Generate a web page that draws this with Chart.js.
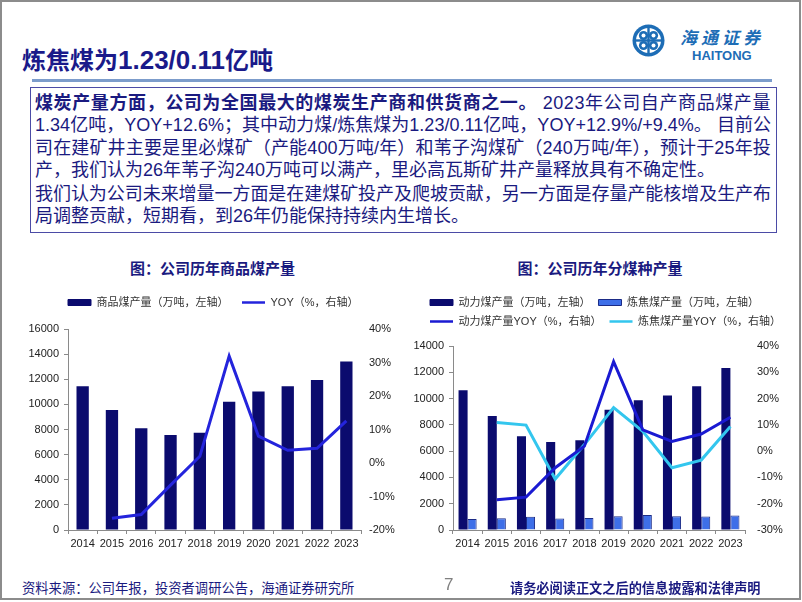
<!DOCTYPE html>
<html>
<head>
<meta charset="utf-8">
<script src="https://cdn.jsdelivr.net/npm/chart.js@4.4.1/dist/chart.umd.min.js"></script>
<style>
html,body{margin:0;padding:0;background:#fff;}
#page{position:relative;width:802px;height:602px;overflow:hidden;font-family:"Liberation Sans","Noto Sans CJK SC",sans-serif;color:#1a1a80;}
.abs{position:absolute;}
#frame{left:0;top:0;width:801px;height:600px;box-sizing:border-box;border:2px solid #8c8c8c;}
#title{left:22px;top:43px;font-size:24px;font-weight:bold;white-space:nowrap;line-height:32px;font-family:"Noto Sans CJK SC",sans-serif;color:#1a1a8a;}
#title .num{font-family:"Liberation Sans Narrow","Liberation Sans",sans-serif;font-size:26px;}
#rule{left:32px;top:79px;width:740px;height:3px;background:#7c9ccb;}
#box{left:30px;top:87px;width:747px;height:146px;box-sizing:border-box;border:1.5px solid #4b4ba6;}
.ln{position:absolute;left:35px;font-size:18px;line-height:22px;white-space:nowrap;}
.ct{position:absolute;top:258px;text-align:center;font-size:15px;font-weight:bold;line-height:20px;font-family:"Noto Sans CJK SC",sans-serif;color:#1a1a80;}
#foot1{left:22px;top:579px;font-size:13.3px;line-height:18px;font-family:"Noto Sans CJK SC",sans-serif;white-space:nowrap;}
#pnum{left:444px;top:575px;font-size:17px;line-height:20px;color:#808080;}
#foot2{left:510px;top:579px;font-size:13.2px;line-height:18px;font-weight:bold;font-family:"Noto Sans CJK SC",sans-serif;white-space:nowrap;}
#logoT{left:680px;top:26px;font-size:17px;line-height:22px;font-weight:bold;font-style:italic;letter-spacing:4px;color:#1d6db6;font-family:"Noto Sans CJK SC",sans-serif;white-space:nowrap;}
#logoE{left:692px;top:48px;font-size:13px;line-height:16px;font-weight:bold;color:#1d6db6;}
canvas{position:absolute;}
</style>
</head>
<body>
<div id="page">
  <div id="frame" class="abs"></div>
  <div id="title" class="abs">炼焦煤为<span class="num">1.23/0.11</span>亿吨</div>
  <svg class="abs" style="left:632px;top:24px" width="33" height="33" viewBox="-16.5 -16.5 33 33">
    <circle r="16" fill="#1d6db6"/>
    <circle r="12.5" fill="#fff"/>
    <circle cx="-5" cy="-5" r="4.6" fill="#1d6db6"/>
    <circle cx="5" cy="-5" r="4.6" fill="#1d6db6"/>
    <circle cx="-5" cy="5" r="4.6" fill="#1d6db6"/>
    <circle cx="5" cy="5" r="4.6" fill="#1d6db6"/>
    <circle cx="-5" cy="-5" r="2" fill="#fff"/>
    <circle cx="5" cy="-5" r="2" fill="#fff"/>
    <circle cx="-5" cy="5" r="2" fill="#fff"/>
    <circle cx="5" cy="5" r="2" fill="#fff"/>
    <rect x="-1.2" y="-13" width="2.4" height="26" fill="#1d6db6"/>
    <rect x="-13" y="-1.2" width="26" height="2.4" fill="#1d6db6"/>
  </svg>
  <div id="logoT" class="abs">海通证券</div>
  <div id="logoE" class="abs">HAITONG</div>
  <div id="rule" class="abs"></div>
  <div id="box" class="abs"></div>
  <div class="ln j" data-w="736" style="top:92px"><span class="in"><b>煤炭产量方面，公司为全国最大的煤炭生产商和供货商之一。</b> 2023年公司自产商品煤产量</span></div>
  <div class="ln j" data-w="736" style="top:114px"><span class="in">1.34亿吨，YOY+12.6%；其中动力煤/炼焦煤为1.23/0.11亿吨，YOY+12.9%/+9.4%。 目前公</span></div>
  <div class="ln j" data-w="736" style="top:137px"><span class="in">司在建矿井主要是里必煤矿（产能400万吨/年）和苇子沟煤矿（240万吨/年），预计于25年投</span></div>
  <div class="ln" style="top:159px"><span class="in">产，我们认为26年苇子沟240万吨可以满产，里必高瓦斯矿井产量释放具有不确定性。</span></div>
  <div class="ln j" data-w="736" style="top:183px"><span class="in">我们认为公司未来增量一方面是在建煤矿投产及爬坡贡献，另一方面是存量产能核增及生产布</span></div>
  <div class="ln" style="top:205px"><span class="in">局调整贡献，短期看，到26年仍能保持持续内生增长。</span></div>

  <div class="ct" style="left:15px;width:395px">图：公司历年商品煤产量</div>
  <div class="ct" style="left:400px;width:400px">图：公司历年分煤种产量</div>

  <canvas id="c1" width="395" height="270" style="left:15px;top:285px"></canvas>
  <canvas id="c2" width="400" height="270" style="left:400px;top:285px"></canvas>

  <div id="foot1" class="abs">资料来源：公司年报，投资者调研公告，海通证券研究所</div>
  <div id="pnum" class="abs">7</div>
  <div id="foot2" class="abs">请务必阅读正文之后的信息披露和法律声明</div>
</div>
<script>
// ---------- data ----------
const years = ['2014','2015','2016','2017','2018','2019','2020','2021','2022','2023'];
const commodityOutput = [11450, 9560, 8090, 7560, 7740, 10210, 11030, 11450, 11950, 13420];
const commodityYoy    = [null, -16.5, -15.4, -6.6, 2.0, 31.9, 8.0, 3.8, 4.4, 12.6];
const thermalOutput   = [10630, 8680, 7130, 6700, 6830, 9150, 9880, 10230, 10930, 12330];
const cokingOutput    = [830, 900, 1000, 880, 920, 1050, 1150, 1050, 1020, 1100];
const thermalYoy      = [null, -18.5, -17.5, -6.3, 1.9, 34.0, 8.1, 3.7, 6.5, 12.9];
const cokingYoy       = [null, 10.9, 9.9, -10.6, 2.5, 16.6, 7.5, -6.3, -3.4, 9.4];
const legendLeft  = ['商品煤产量（万吨，左轴）', 'YOY（%，右轴）'];
const legendRight = ['动力煤产量（万吨，左轴）', '炼焦煤产量（万吨，左轴）', '动力煤产量YOY（%，右轴）', '炼焦煤产量YOY（%，右轴）'];

// ---------- justify text lines ----------
document.querySelectorAll('.j').forEach(el => {
  const span = el.querySelector('.in');
  const target = +el.dataset.w;
  const w = span.getBoundingClientRect().width;
  const n = span.textContent.length;
  span.style.letterSpacing = ((target - w) / n) + 'px';
});

// ---------- chart ----------
Chart.defaults.font.family = '"Liberation Sans","Noto Sans CJK SC",sans-serif';
Chart.defaults.color = '#222';
Chart.defaults.animation = false;

// adds space below the legend and shifts it horizontally
const legendSpacer = {
  id: 'legendSpacer',
  beforeLayout(chart, args, opts) {
    const lg = chart.legend;
    if (lg && !lg._spacer) {
      const fit = lg.fit;
      lg.fit = function () { fit.call(this); this.height += (opts.extra || 0); };
      const draw = lg.draw;
      lg.draw = function () {
        const ctx = this.ctx;
        ctx.save();
        ctx.translate(opts.dx || 0, 0);
        draw.apply(this, arguments);
        ctx.restore();
      };
      lg._spacer = true;
    }
  }
};

function legendItems(padFirst) {
  return function (chart) {
    return chart.data.datasets.map((ds, i) => {
      const isLine = ds.type === 'line';
      return {
        text: ds.label + (padFirst && i === 0 ? '\u3000' : ''),
        fillStyle: isLine ? ds.borderColor : ds.backgroundColor,
        strokeStyle: isLine ? ds.borderColor : (ds.borderColor || ds.backgroundColor),
        lineWidth: isLine ? 2.5 : 1,
        pointStyle: isLine ? 'line' : 'rect',
        rotation: 0,
        hidden: false,
        datasetIndex: i,
        fontColor: '#333'
      };
    });
  };
}

const axisColor = '#8a8a8a';
function xScale() {
  return {
    offset: true,
    grid: {display: true, offset: true, drawOnChartArea: false, drawTicks: true, tickLength: 4, color: axisColor},
    border: {display: true, color: axisColor},
    ticks: {font: {size: 11}, color: '#222', padding: 3, maxRotation: 0, autoSkip: false},
    afterFit(s) { s.height = 25; }
  };
}
function yLeft(max, step, w) {
  return {
    position: 'left', min: 0, max: max,
    ticks: {stepSize: step, font: {size: 11}, color: '#222', padding: 5, callback: v => String(v)},
    grid: {display: true, drawOnChartArea: false, drawTicks: true, tickLength: 4, color: axisColor},
    border: {display: true, color: axisColor},
    afterFit(s) { s.width = w; }
  };
}
function yRight(min, max, w, pad) {
  return {
    position: 'right', min: min, max: max,
    ticks: {stepSize: 10, font: {size: 11}, color: '#222', padding: pad, callback: v => v + '%'},
    grid: {display: false, drawTicks: false, tickLength: 0},
    border: {display: false},
    afterFit(s) { s.width = w; }
  };
}

new Chart(document.getElementById('c1'), {
  type: 'bar',
  data: {
    labels: years,
    datasets: [
      {type: 'bar', label: legendLeft[0], data: commodityOutput, yAxisID: 'y',
       backgroundColor: '#0b0b6e', borderColor: '#0b0b6e', borderWidth: 0,
       barPercentage: 0.42, categoryPercentage: 1, order: 1},
      {type: 'line', label: legendLeft[1], data: commodityYoy, yAxisID: 'y1',
       borderColor: '#2424dc', backgroundColor: '#2424dc', borderWidth: 3,
       pointRadius: 0, tension: 0, order: 0}
    ]
  },
  options: {
    responsive: false,
    animation: false,
    layout: {padding: {left: 12, right: 9, top: 4, bottom: 0}},
    scales: {x: xScale(), y: yLeft(16000, 2000, 41), y1: yRight(-20, 40, 40, 8)},
    plugins: {
      legendSpacer: {extra: 11, dx: 33},
      tooltip: {enabled: false},
      legend: {
        position: 'top', align: 'start',
        labels: {usePointStyle: true, pointStyleWidth: 23, boxHeight: 6, padding: 8,
                 font: {size: 11}, color: '#333', generateLabels: legendItems(true)}
      }
    }
  },
  plugins: [legendSpacer]
});

new Chart(document.getElementById('c2'), {
  type: 'bar',
  data: {
    labels: years,
    datasets: [
      {type: 'bar', label: legendRight[0], data: thermalOutput, yAxisID: 'y',
       backgroundColor: '#0b0b6e', borderColor: '#0b0b6e', borderWidth: 0,
       barPercentage: 1, categoryPercentage: 0.62, order: 2},
      {type: 'bar', label: legendRight[1], data: cokingOutput, yAxisID: 'y',
       backgroundColor: '#3e6fe8', borderColor: '#1b2b86', borderWidth: 1,
       barPercentage: 1, categoryPercentage: 0.62, order: 2},
      {type: 'line', label: legendRight[2], data: thermalYoy, yAxisID: 'y1',
       borderColor: '#1a1ad2', backgroundColor: '#1a1ad2', borderWidth: 3,
       pointRadius: 0, tension: 0, order: 0},
      {type: 'line', label: legendRight[3], data: cokingYoy, yAxisID: 'y1',
       borderColor: '#33c6ee', backgroundColor: '#33c6ee', borderWidth: 3,
       pointRadius: 0, tension: 0, order: 1}
    ]
  },
  options: {
    responsive: false,
    animation: false,
    layout: {padding: {left: 12, right: 10, top: 4, bottom: 0}},
    scales: {x: xScale(), y: yLeft(14000, 2000, 41), y1: yRight(-30, 40, 45, 12)},
    plugins: {
      legendSpacer: {extra: 9, dx: 10},
      tooltip: {enabled: false},
      legend: {
        position: 'top', align: 'start',
        labels: {usePointStyle: true, pointStyleWidth: 23, boxHeight: 6, padding: 8,
                 font: {size: 11}, color: '#333', generateLabels: legendItems(false)}
      }
    }
  },
  plugins: [legendSpacer]
});
</script>
</body>
</html>
